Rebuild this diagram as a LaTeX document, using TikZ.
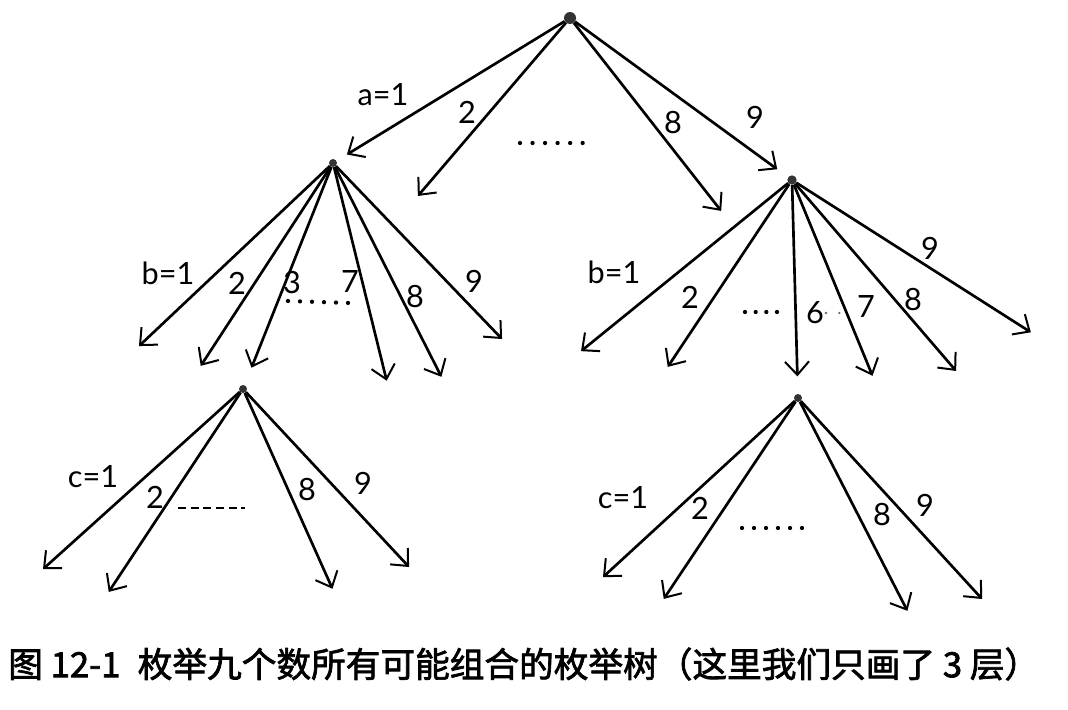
\documentclass[tikz,border=0pt]{standalone}
\usepackage{fontspec}
\usetikzlibrary{arrows.meta}
\newfontfamily\handfont{Lato}
\newfontfamily\cjk{Noto Sans CJK SC}[FakeBold=2]

\tikzset{
  arr/.style={line width=2pt, shorten >=1pt, -{Straight Barb[length=10pt,width=18pt,line width=1.5pt]}},
  knot/.style={circle, fill=black!80, inner sep=0pt, minimum size=#1},
  lbl/.style={inner sep=0.75pt, font=\handfont\fontsize{23}{25}\selectfont},
  dotrow/.style={line width=3.2pt, line cap=round, dash pattern=on 0pt off #1},
  dotrow/.default=9.4pt,
}

\begin{document}
\begin{tikzpicture}[x=0.75pt,y=0.75pt,yscale=-1,xscale=1]
%set diagram left start at 0, and has height of 710
\path [use as bounding box] (0,0) rectangle (1068,710);

% Knots
\node [knot=9pt] (root) at (570,18) {};
\node [knot=6pt] (nA) at (333,163) {};
\node [knot=7pt] (nI) at (792,180) {};
\node [knot=6pt] (nB) at (243,389) {};
\node [knot=6pt] (nC) at (798,398) {};

% Free ends
\coordinate (e2) at (417,197);
\coordinate (e8) at (722,212);
\coordinate (lb1) at (138,347);
\coordinate (lb2) at (200,367);
\coordinate (lb7) at (387,382);
\coordinate (lb8) at (442,378);
\coordinate (lb9) at (503,340);
\coordinate (rb1) at (580,352);
\coordinate (rb2) at (667,368);
\coordinate (rb7) at (873,377);
\coordinate (rb8) at (957,372);
\coordinate (rb9) at (1032,333);
\coordinate (lc1) at (42,570);
\coordinate (lc2) at (108,593);
\coordinate (lc8) at (333,590);
\coordinate (lc9) at (410,568);
\coordinate (rc1) at (602,578);
\coordinate (rc2) at (663,600);
\coordinate (rc8) at (908,612);
\coordinate (rc9) at (983,600);

%Straight Lines, first layer
\draw [arr, shorten >=9pt] (root) -- (nA) ;
\draw [arr] (root) -- (e2) ;
\draw [arr] (root) -- (e8) ;
\draw [arr, shorten >=10pt] (root) -- (nI) ;

%Straight Lines, second layer (left)
\draw [arr] (nA) -- (lb1) ;
\draw [arr] (nA) -- (lb2) ;
\draw [arr, shorten >=14pt] (nA) -- (nB) ;
\draw [arr] (nA) -- (lb7) ;
\draw [arr] (nA) -- (lb8) ;
\draw [arr] (nA) -- (lb9) ;

%Straight Lines, second layer (right)
\draw [arr] (nI) -- (rb1) ;
\draw [arr] (nI) -- (rb2) ;
\draw [arr, shorten >=13pt] (nI) -- (nC) ;
\draw [arr] (nI) -- (rb7) ;
\draw [arr] (nI) -- (rb8) ;
\draw [arr] (nI) -- (rb9) ;

%Straight Lines, third layer
\draw [arr] (nB) -- (lc1) ;
\draw [arr] (nB) -- (lc2) ;
\draw [arr] (nB) -- (lc8) ;
\draw [arr] (nB) -- (lc9) ;
\draw [arr] (nC) -- (rc1) ;
\draw [arr] (nC) -- (rc2) ;
\draw [arr] (nC) -- (rc8) ;
\draw [arr] (nC) -- (rc9) ;

% Ellipsis dots
\draw [dotrow] (520,143) -- (584,143) ;
\draw [dotrow=9pt] (288,301) -- (350,303) ;
\draw [dotrow=8pt] (745,312) -- (778,312) ;
\draw [dotrow=10pt, line width=2pt, black!60] (826,313) -- (840,313) ;
\draw [line width=1.4pt, dash pattern=on 6pt off 3.5pt] (178,508) -- (245,508) ;
\draw [dotrow=9pt] (742,528) -- (803,528) ;

% Text Node
\node [lbl] (ta1) at (383,95) {a=1};
\node [lbl] (ta2) at (467,112) {2};
\node [lbl] (ta8) at (673,123) {8};
\node [lbl] (ta9) at (755,117) {9};

% Text Node
\node [lbl] (tlb1) at (168,273) {b=1};
\node [lbl] (tlb2) at (237,283) {2};
\node [lbl] (tlb3) at (292,283) {3};
\node [lbl] (tlb7) at (350,282) {7};
\node [lbl] (tlb8) at (415,297) {8};
\node [lbl] (tlb9) at (474,281) {9};

% Text Node
\node [lbl] (trb1) at (614,272) {b=1};
\node [lbl] (trb2) at (690,297) {2};
\node [lbl] (trb6) at (815,313) {6};
\node [lbl] (trb7) at (866,307) {7};
\node [lbl] (trb8) at (913,300) {8};
\node [lbl] (trb9) at (930,248) {9};

% Text Node
\node [lbl] (tlc1) at (93,477) {c=1};
\node [lbl] (tlc2) at (155,497) {2};
\node [lbl] (tlc8) at (307,490) {8};
\node [lbl] (tlc9) at (363,483) {9};

% Text Node
\node [lbl] (trc1) at (623,498) {c=1};
\node [lbl] (trc2) at (700,508) {2};
\node [lbl] (trc8) at (882,515) {8};
\node [lbl] (trc9) at (925,505) {9};

% Caption
\node [anchor=west, inner sep=0pt, font=\cjk\fontsize{26}{30}\selectfont] (cap) at (8,664) {图 12-1\hspace{0.5em}枚举九个数所有可能组合的枚举树（这里我们只画了 3 层）};

\end{tikzpicture}
\end{document}
